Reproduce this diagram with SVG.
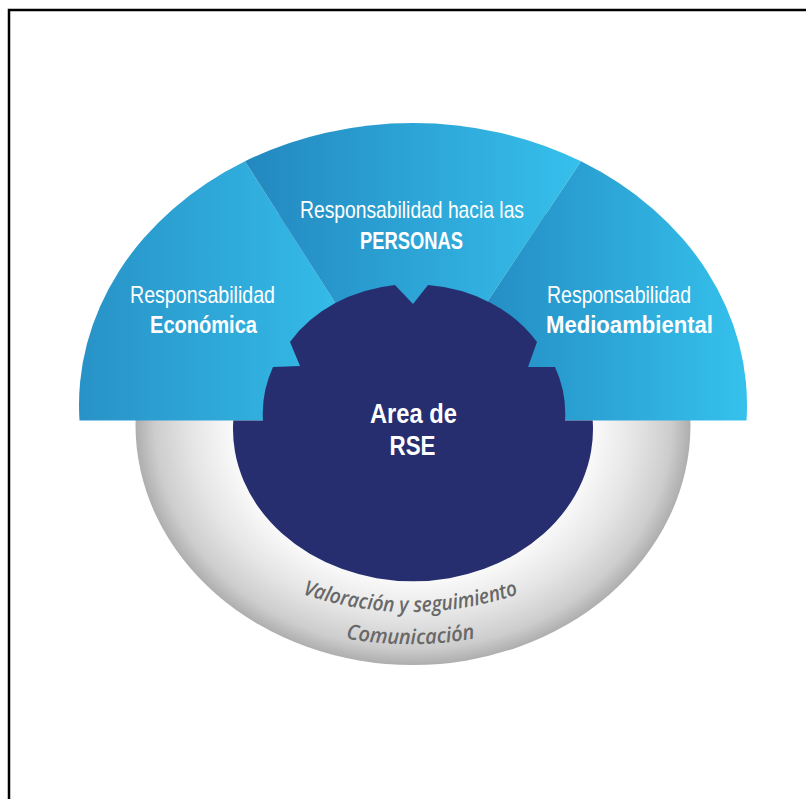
<svg xmlns="http://www.w3.org/2000/svg" width="806" height="799" viewBox="0 0 806 799">
  <style>
    .lbl { font-family: "Liberation Sans", Arial, sans-serif; font-size: 24px; fill: #ffffff; }
    .b { font-weight: bold; }
    .core { font-family: "Liberation Sans", Arial, sans-serif; font-size: 27px; font-weight: bold; fill: #ffffff; }
    .ring { font-family: "Open Sans", "Liberation Sans", sans-serif; font-size: 21px; font-style: italic; font-weight: 600; fill: #686868; }
  </style>
  <defs>
    <radialGradient id="gRing" cx="0.5" cy="0.5" r="0.5">
      <stop offset="0" stop-color="#ffffff"/>
      <stop offset="0.66" stop-color="#f8f8f8"/>
      <stop offset="0.8" stop-color="#e5e5e5"/>
      <stop offset="0.93" stop-color="#cdcdcd"/>
      <stop offset="1" stop-color="#aeaeae"/>
    </radialGradient>
    <linearGradient id="gLeft" x1="0" y1="0" x2="1" y2="0">
      <stop offset="0" stop-color="#2892c7"/>
      <stop offset="1" stop-color="#35bfea"/>
    </linearGradient>
    <linearGradient id="gMid" x1="0" y1="0" x2="1" y2="0">
      <stop offset="0" stop-color="#2388bf"/>
      <stop offset="1" stop-color="#36c0ec"/>
    </linearGradient>
    <linearGradient id="gRight" x1="0" y1="0" x2="1" y2="0">
      <stop offset="0" stop-color="#2389c0"/>
      <stop offset="1" stop-color="#35c1ec"/>
    </linearGradient>
    <path id="arcA" d="M 217,550 A 333 333 0 0 0 604,550"/>
    <path id="arcB" d="M 210,584 A 364 364 0 0 0 611,584"/>
  </defs>

  <!-- frame -->
  <path d="M 9,799 V 10 H 806" fill="none" stroke="#000000" stroke-width="2.5"/>

  <!-- outer ring: follow-up and communication -->
  <g id="ring">
    <ellipse cx="413" cy="425" rx="277.5" ry="240" fill="url(#gRing)"/>
    <text class="ring" textLength="220" lengthAdjust="spacingAndGlyphs"><textPath href="#arcA" startOffset="50%" text-anchor="middle">Valoración y seguimiento</textPath></text>
    <text class="ring" textLength="130" lengthAdjust="spacingAndGlyphs"><textPath href="#arcB" startOffset="50%" text-anchor="middle">Comunicación</textPath></text>
  </g>

  <!-- three responsibility sectors -->
  <g id="economica">
    <path d="M 79.5,420.5 A 334 282 0 0 1 245,161.3 L 334.5,301.7 L 360,341 L 360,420.5 Z" fill="url(#gLeft)"/>
    <text class="lbl" x="130" y="303" textLength="145" lengthAdjust="spacingAndGlyphs">Responsabilidad</text>
    <text class="lbl b" x="150" y="333" textLength="107" lengthAdjust="spacingAndGlyphs">Económica</text>
  </g>
  <g id="personas">
    <path d="M 245,161.3 A 334 282 0 0 1 581,161.3 L 488.5,300 L 461,341 L 360,341 L 334.5,301.7 Z" fill="url(#gMid)"/>
    <text class="lbl" x="300" y="218" textLength="224" lengthAdjust="spacingAndGlyphs">Responsabilidad hacia las</text>
    <text class="lbl b" x="360" y="249" textLength="103" lengthAdjust="spacingAndGlyphs">PERSONAS</text>
  </g>
  <g id="medioambiental">
    <path d="M 581,161.3 A 334 282 0 0 1 746.5,420.5 L 461,420.5 L 461,341 L 488.5,300 Z" fill="url(#gRight)"/>
    <text class="lbl" x="547" y="303" textLength="144" lengthAdjust="spacingAndGlyphs">Responsabilidad</text>
    <text class="lbl b" x="546" y="333" textLength="167" lengthAdjust="spacingAndGlyphs">Medioambiental</text>
  </g>

  <!-- central area -->
  <g id="area-rse">
    <path d="M 233.3,420.5 A 180 152 0 1 0 592.7,420.5 L 565,420.5 A 152 128 0 0 0 555,367 L 528,367 L 537,342 A 144 122 0 0 0 428,285 L 413,304 L 395,285 A 144 122 0 0 0 290,342 L 300,366 L 273,367 A 151 128 0 0 0 263,420.5 Z" fill="#262e70"/>
    <text class="core" x="370" y="423" textLength="87" lengthAdjust="spacingAndGlyphs">Area de</text>
    <text class="core" x="389.5" y="455" textLength="46" lengthAdjust="spacingAndGlyphs">RSE</text>
  </g>

  <!-- no connectors in this figure -->
  <g id="connectors"/>
</svg>
